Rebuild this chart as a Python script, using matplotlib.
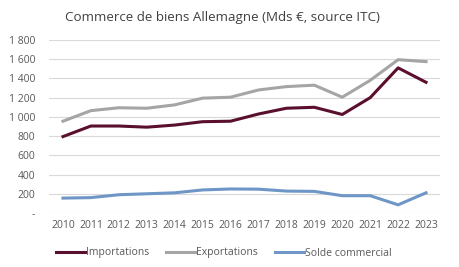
import matplotlib
matplotlib.use("Agg")
import matplotlib.pyplot as plt

years = list(range(2010, 2024))
importations = [795, 905, 905, 893, 915, 950, 955, 1030, 1090, 1100, 1025, 1200, 1510, 1360]
exportations = [955, 1065, 1095, 1090, 1125, 1195, 1205, 1280, 1315, 1330, 1205, 1380, 1595, 1575]
solde = [155, 160, 190, 200, 210, 240, 250, 248, 228, 225, 180, 180, 85, 210]
yticks = [0, 200, 400, 600, 800, 1000, 1200, 1400, 1600, 1800]
ytick_labels = ["-", "200", "400", "600", "800", "1 000", "1 200", "1 400", "1 600", "1 800"]

plt.rcParams['font.family'] = ['Open Sans', 'DejaVu Sans']
fig = plt.figure(figsize=(4.6, 2.67), dpi=100)
ax = fig.add_axes([49/460, 1-213/267, (440-49)/460, (213-40)/267])

ax.plot(years, importations, color="#5A0F2E", lw=2.2, label="Importations")
ax.plot(years, exportations, color="#A5A5A5", lw=2.2, label="Exportations")
ax.plot(years, solde, color="#6E96C6", lw=2.2, label="Solde commercial")

ax.set_xlim(2009.5, 2023.5)
ax.set_ylim(0, 1800)
ax.set_yticks(yticks)
ax.set_yticklabels(ytick_labels)
ax.set_xticks(years)
ax.grid(axis="y", color="#D9D9D9", lw=0.8)
ax.set_axisbelow(True)
for s in ax.spines.values():
    s.set_visible(False)
ax.tick_params(length=0, labelsize=7.5, colors="#595959", pad=5)
ax.tick_params(axis="y", pad=10)

fig.text(65/460, 1-17/267, "Commerce de biens Allemagne (Mds €, source ITC)",
         fontsize=9.6, color="#404040", va="center", ha="left")

fig.legend(loc="center", bbox_to_anchor=(224/460, 1-253/267), ncol=3, frameon=False,
           fontsize=7.5, handlelength=2.8, handletextpad=0.1, columnspacing=1.6,
           labelcolor="#595959")

fig.savefig("out.png", dpi=100)
